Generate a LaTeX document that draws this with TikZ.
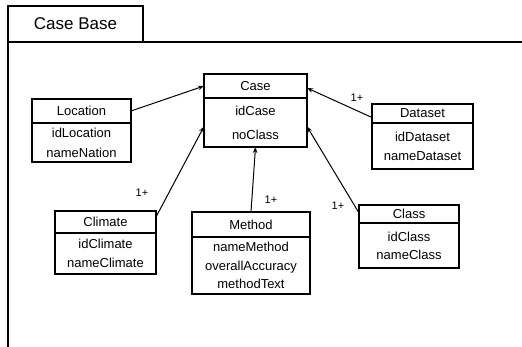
\documentclass[tikz,border=0pt]{standalone}
\usepackage{fontspec}
\setmainfont{Liberation Sans}
\usetikzlibrary{arrows.meta,calc}
\begin{document}
\begin{tikzpicture}[x=1pt,y=-1pt,
  frame/.style={draw, line width=1.3pt},
  hdr/.style={draw, line width=1.1pt, anchor=north west, inner sep=0pt, outer sep=0pt, font=\fontsize{13}{15}\selectfont},
  body/.style={draw, line width=1.1pt, anchor=north west, inner sep=0pt, outer sep=0pt, align=center, font=\fontsize{13}{19}\selectfont},
  assoc/.style={line width=1pt, -{Stealth[length=6pt,width=4.5pt]}},
  mult/.style={font=\fontsize{11}{12}\selectfont, inner sep=0pt}]
\useasboundingbox (0,0) rectangle (522,347);
% frame
\node[frame, anchor=north west, inner sep=0pt, outer sep=0pt, minimum width=135pt, minimum height=36pt, font=\fontsize{17}{20}\selectfont] (tab) at (8,6) {Case Base};
\coordinate (fr) at (523,42);
\coordinate (fb) at (8,348);
\draw[line width=1.3pt] (tab.south east) -- (fr);
\draw[line width=1.3pt] (tab.south west) -- (fb);
% Case
\node[hdr, minimum width=103pt, minimum height=24pt] (caseh) at (204,74) {Case};
\node[body, minimum width=103pt, minimum height=49pt, font=\fontsize{13}{24}\selectfont] (caseb) at (caseh.south west) {idCase\\noClass};
% Location
\node[hdr, minimum width=99pt, minimum height=24pt] (loch) at (32,99) {Location};
\node[body, minimum width=99pt, minimum height=39pt, font=\fontsize{13}{20}\selectfont] (locb) at (loch.south west) {idLocation\\nameNation};
% Climate
\node[hdr, minimum width=101pt, minimum height=22pt] (climh) at (55,211) {Climate};
\node[body, minimum width=101pt, minimum height=41pt] (climb) at (climh.south west) {idClimate\\nameClimate};
% Method
\node[hdr, minimum width=118pt, minimum height=25pt] (methh) at (192,212) {Method};
\node[body, minimum width=118pt, minimum height=57pt, font=\fontsize{13}{18.5}\selectfont] (methb) at (methh.south west) {nameMethod\\overallAccuracy\\methodText};
% Dataset
\node[hdr, minimum width=101pt, minimum height=19pt] (datah) at (372,104) {Dataset};
\node[body, minimum width=101pt, minimum height=46pt] (datab) at (datah.south west) {idDataset\\nameDataset};
% Class
\node[hdr, minimum width=100pt, minimum height=18pt] (classh) at (359,205) {Class};
\node[body, minimum width=100pt, minimum height=45pt, font=\fontsize{13}{18}\selectfont] (classb) at (classh.south west) {idClass\\nameClass};
% associations
\draw[assoc] (loch.east) -- (caseh.west);
\draw[assoc] ($(climh.north east)+(0,6)$) -- ($(caseb.west)+(0,4)$);
\draw[assoc] (methh.north) -- (caseb.south);
\draw[assoc] ($(classh.north west)+(0,8)$) -- ($(caseb.east)+(0,4)$);
\draw[assoc] ($(datah.west)+(0,4)$) -- ($(caseh.east)+(0,2)$);
% multiplicities
\node[mult] (m1) at (142,193) {1+};
\node[mult] (m2) at (271,200) {1+};
\node[mult] (m3) at (338,206) {1+};
\node[mult] (m4) at (357,98) {1+};
\end{tikzpicture}
\end{document}
